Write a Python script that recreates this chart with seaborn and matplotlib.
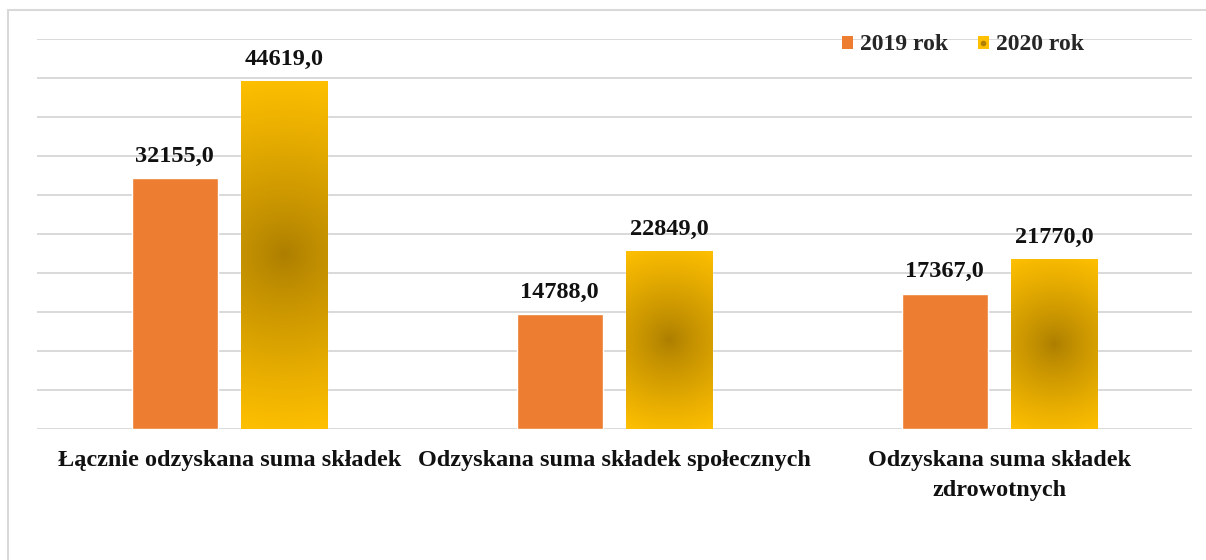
import numpy as np
import pandas as pd
import matplotlib
matplotlib.use("Agg")
import matplotlib.pyplot as plt
import seaborn as sns
from matplotlib.patches import Patch
from matplotlib.lines import Line2D
from matplotlib.legend_handler import HandlerTuple

categories = ["Łącznie odzyskana suma składek",
              "Odzyskana suma składek społecznych",
              "Odzyskana suma składek\nzdrowotnych"]
series_names = ["2019 rok", "2020 rok"]
values_2019 = [32155.0, 14788.0, 17367.0]
values_2020 = [44619.0, 22849.0, 21770.0]

df = pd.DataFrame({
    "kategoria": categories * 2,
    "rok": [series_names[0]] * 3 + [series_names[1]] * 3,
    "wartosc": values_2019 + values_2020,
})

sns.set_theme(style="white")
plt.rcParams['font.family'] = ['Liberation Serif', 'DejaVu Serif']
plt.rcParams['font.weight'] = 'bold'

ORANGE = "#ED7D31"
GOLD = "#FFC000"
DARK = np.array([172, 126, 0]) / 255.0
LIGHT = np.array([255, 192, 0]) / 255.0
FS = 17.5

fig = plt.figure(figsize=(12.06, 5.6), dpi=100)
ax = fig.add_axes([37/1206, 1 - 429/560, (1192 - 37)/1206, (429 - 39)/560])

sns.barplot(data=df, x="kategoria", y="wartosc", hue="rok",
            palette=[ORANGE, GOLD], width=0.569, gap=0.214,
            ax=ax, legend=False, saturation=1, zorder=3)

ax.set_xlim(-0.5, 2.5)
ax.set_ylim(0, 50000)
ax.set_yticks(np.arange(0, 50001, 5000))
ax.set_yticklabels([])
ax.tick_params(axis='y', length=0)
ax.tick_params(axis='x', length=0, pad=15)
ax.yaxis.grid(True, color="#D9D9D9", linewidth=1.4, zorder=0)
ax.set_axisbelow(True)
for s in ax.spines.values():
    s.set_visible(False)
ax.set_xlabel("")
ax.set_ylabel("")
for lbl in ax.get_xticklabels():
    lbl.set_fontsize(FS)
    lbl.set_fontweight('bold')
    lbl.set_color('#111111')
    lbl.set_linespacing(1.55)
    lbl.set_verticalalignment('top')

fig.canvas.draw()
p0 = ax.transData.transform((0, 0))
p1 = ax.transData.transform((1, 10000))
sx = p1[0] - p0[0]
sy = (p1[1] - p0[1]) / 10000.0

patches = list(ax.patches)
n = len(categories)
for i, p in enumerate(patches):
    x0 = p.get_x(); w = p.get_width(); h = p.get_height()
    ax.annotate(f"{h:.1f}".replace(".", ","), (x0 + w/2, h),
                xytext=(0, 8), textcoords="offset points",
                ha="center", va="bottom", fontsize=FS, fontweight="bold",
                color="#111111", zorder=5)
    if i >= n:
        wpx = w * sx; hpx = h * sy
        nx, ny = 80, 200
        xs = np.linspace(-wpx/2, wpx/2, nx)
        ys = np.linspace(-hpx/2, hpx/2, ny)
        X, Y = np.meshgrid(xs, ys)
        R = np.sqrt(X**2 + Y**2) / np.sqrt((wpx/2)**2 + (hpx/2)**2)
        t = np.clip(R, 0, 1) ** 0.85
        img = DARK[None, None, :] * (1 - t[..., None]) + LIGHT[None, None, :] * t[..., None]
        im = ax.imshow(img, extent=(x0, x0 + w, 0, h), origin='lower',
                       aspect='auto', zorder=4, interpolation='bilinear')
        im.set_clip_path(p)

ax.set_xlim(-0.5, 2.5)
ax.set_ylim(0, 50000)

h1 = Patch(facecolor=ORANGE, edgecolor='none')
h2 = (Patch(facecolor=GOLD, edgecolor='none'),
      Line2D([], [], marker='o', markersize=3, color='#B08000', linestyle='none'))
leg = fig.legend([h1, h2], series_names, loc='center left',
                 bbox_to_anchor=(842/1206, 1 - 45/560), ncol=2, frameon=False,
                 handlelength=0.47, handleheight=0.47, handletextpad=0.3,
                 columnspacing=1.25, borderaxespad=0, borderpad=0,
                 prop={'family': 'Liberation Serif', 'weight': 'bold', 'size': 17},
                 handler_map={tuple: HandlerTuple(ndivide=1)})

fig.add_artist(Line2D([8/1206, 1.0], [1 - 10/560, 1 - 10/560], color="#D9D9D9",
                      linewidth=1.5, transform=fig.transFigure))
fig.add_artist(Line2D([8/1206, 8/1206], [0, 1 - 10/560], color="#D9D9D9",
                      linewidth=1.5, transform=fig.transFigure))

fig.savefig("out.png", dpi=100, facecolor="white")
